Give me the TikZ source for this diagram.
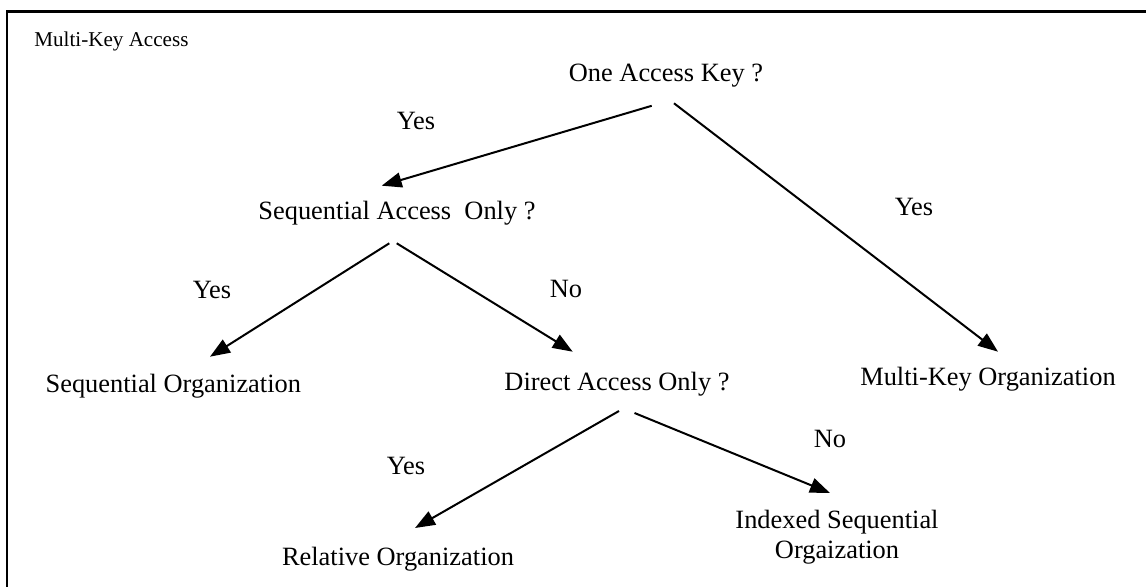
\documentclass[tikz,border=0pt]{standalone}
\usepackage{fontspec}
\setmainfont{Liberation Serif}
\usetikzlibrary{arrows.meta}
\begin{document}
\begin{tikzpicture}[x=0.5pt,y=-0.5pt,
  lbl/.style={inner sep=0pt, anchor=base, font=\fontsize{13.2}{15}\selectfont},
  arr/.style={line width=1pt, -{Triangle[length=10pt,width=7.5pt]}},
  frame/.style={line width=1.2pt}
]
\useasboundingbox (0,0) rectangle (1146,587);
\fill[white] (0,0) rectangle (1146,587);
\draw[frame] (7.2,587) -- (7.2,11.7) -- (1146,11.7);

\node[inner sep=0pt, anchor=base west, font=\fontsize{10.55}{12}\selectfont] (title) at (34,47) {Multi-Key Access};

\node[lbl] (q1) at (666,82) {One Access Key ?};
\node[lbl] (q2) at (397,220) {Sequential Access\ \ Only ?};
\node[lbl] (seqorg) at (173.3,393) {Sequential Organization};
\node[lbl] (q3) at (617,391) {Direct Access Only ?};
\node[lbl] (multi) at (988,386) {Multi-Key Organization};
\node[lbl] (rel) at (398,566) {Relative Organization};
\node[lbl, anchor=north, align=center] (idx) at (837,509.5) {Indexed Sequential\\Orgaization};

\node[lbl] (yes1) at (416,130) {Yes};
\node[lbl] (yes2) at (914,216) {Yes};
\node[lbl] (yes3) at (212,299) {Yes};
\node[lbl] (no1) at (566,298) {No};
\node[lbl] (yes4) at (406,475) {Yes};
\node[lbl] (no2) at (830,448) {No};

\draw[arr] ([shift={(-14.3,23.8)}]q1.base) -- ([shift={(-15.3,-34.3)}]q2.base);
\draw[arr] ([shift={(8,21.3)}]q1.base) -- ([shift={(10,-34.3)}]multi.base);
\draw[arr] ([shift={(-7.7,23.3)}]q2.base) -- ([shift={(36.7,-36.3)}]seqorg.base);
\draw[arr] ([shift={(-0.3,23.3)}]q2.base) -- ([shift={(-44.3,-39.3)}]q3.base);
\draw[arr] ([shift={(2,20)}]q3.base) -- ([shift={(17,-38)}]rel.base);
\draw[arr] ([shift={(17.5,22)}]q3.base) -- ([shift={(-7,-16.5)}]idx.north);
\end{tikzpicture}
\end{document}
